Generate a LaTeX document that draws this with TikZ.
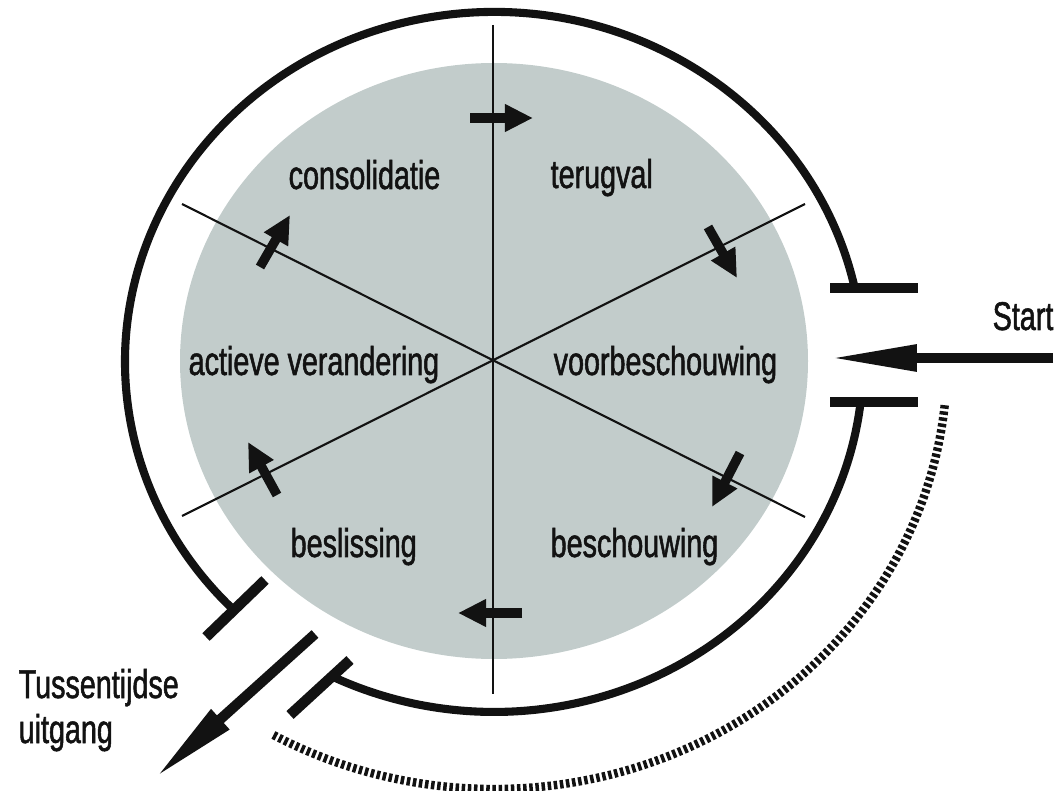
\documentclass[tikz,border=0pt]{standalone}
\usepackage{fontspec}
\setmainfont[FakeStretch=0.716,FakeBold=1.3]{Liberation Sans}
\usetikzlibrary{arrows.meta}
\definecolor{disc}{RGB}{194,204,203}
\definecolor{ink}{RGB}{18,18,18}
\begin{document}
\begin{tikzpicture}[x=0.01cm,y=-0.01cm,
  lab/.style={anchor=base west, inner sep=0pt, font=\fontsize{11.4pt}{13pt}\selectfont, text=ink},
  ring/.style={line width=2.3pt, draw=ink},
  bar/.style={line width=3pt, draw=ink},
  thinline/.style={line width=0.6pt, draw=ink},
  smallarrow/.style={line width=2.7pt, draw=ink, -{Triangle[length=8pt,width=7.4pt]}},
  bigarrow/.style={line width=2.9pt, draw=ink, -{Triangle[length=25pt,width=7pt]}},
  hatch/.style={line width=2.4pt, draw=ink, dash pattern=on 1pt off 0.75pt}]
\useasboundingbox (0,0) rectangle (1060,791);
% grey disc
\fill[disc] (494,361) ellipse [x radius=314, y radius=298];
% dividing lines
\coordinate (vt) at (493,25);
\coordinate (vb) at (493,694);
\coordinate (d1a) at (182,204);
\coordinate (d1b) at (805,517);
\coordinate (d2a) at (182,516);
\coordinate (d2b) at (805,204);
\draw[thinline] (vt) -- (vb);
\draw[thinline] (d1a) -- (d1b);
\draw[thinline] (d2a) -- (d2b);
% labels
\node[lab] (cons) at (288,189) {consolidatie};
\node[lab] (terug) at (550,188) {terugval};
\node[lab] (actief) at (188,375) {actieve verandering};
\node[lab] (voor) at (553,375) {voorbeschouwing};
\node[lab] (besl) at (290,557) {beslissing};
\node[lab] (besch) at (550,557) {beschouwing};
\node[lab] (start) at (992,330) {Start};
\node[lab] (tus) at (18,698) {Tussentijdse};
\node[lab] (uit) at (18,743) {uitgang};
% small cycle arrows
\coordinate (a1s) at (470,118); \coordinate (a1e) at (533,118);
\coordinate (a2s) at (708,227); \coordinate (a2e) at (737,278);
\coordinate (a3s) at (740,453); \coordinate (a3e) at (712,507);
\coordinate (a4s) at (522,613); \coordinate (a4e) at (458,613);
\coordinate (a5s) at (277,495); \coordinate (a5e) at (248,442);
\coordinate (a6s) at (260,267); \coordinate (a6e) at (290,215);
\draw[smallarrow] (a1s) -- (a1e);
\draw[smallarrow] (a2s) -- (a2e);
\draw[smallarrow] (a3s) -- (a3e);
\draw[smallarrow] (a4s) -- (a4e);
\draw[smallarrow] (a5s) -- (a5e);
\draw[smallarrow] (a6s) -- (a6e);
% outer ring with two openings
\draw[ring] (854.7,288.0) arc[start angle=-12.2, end angle=-224.4, x radius=369, y radius=350];
\draw[ring] (860.6,402.2) arc[start angle=6.6, end angle=115.5, x radius=369, y radius=350];
% bars at the openings
\coordinate (b1a) at (830,288); \coordinate (b1b) at (918,288);
\coordinate (b2a) at (830,402); \coordinate (b2b) at (918,402);
\coordinate (b3a) at (206,637); \coordinate (b3b) at (265,580);
\coordinate (b4a) at (290,715); \coordinate (b4b) at (350,660);
\draw[bar] (b1a) -- (b1b);
\draw[bar] (b2a) -- (b2b);
\draw[bar] (b3a) -- (b3b);
\draw[bar] (b4a) -- (b4b);
% entry and exit arrows
\coordinate (ins) at (1053,358); \coordinate (ine) at (829,358);
\coordinate (outs) at (315,634); \coordinate (oute) at (155,778);
\draw[bigarrow] (ins) -- (ine);
\draw[bigarrow] (outs) -- (oute);
% hatched return arc
\draw[hatch] (944.7,405.2) arc[start angle=5.8, end angle=119.2, x radius=453, y radius=427];
\end{tikzpicture}
\end{document}
